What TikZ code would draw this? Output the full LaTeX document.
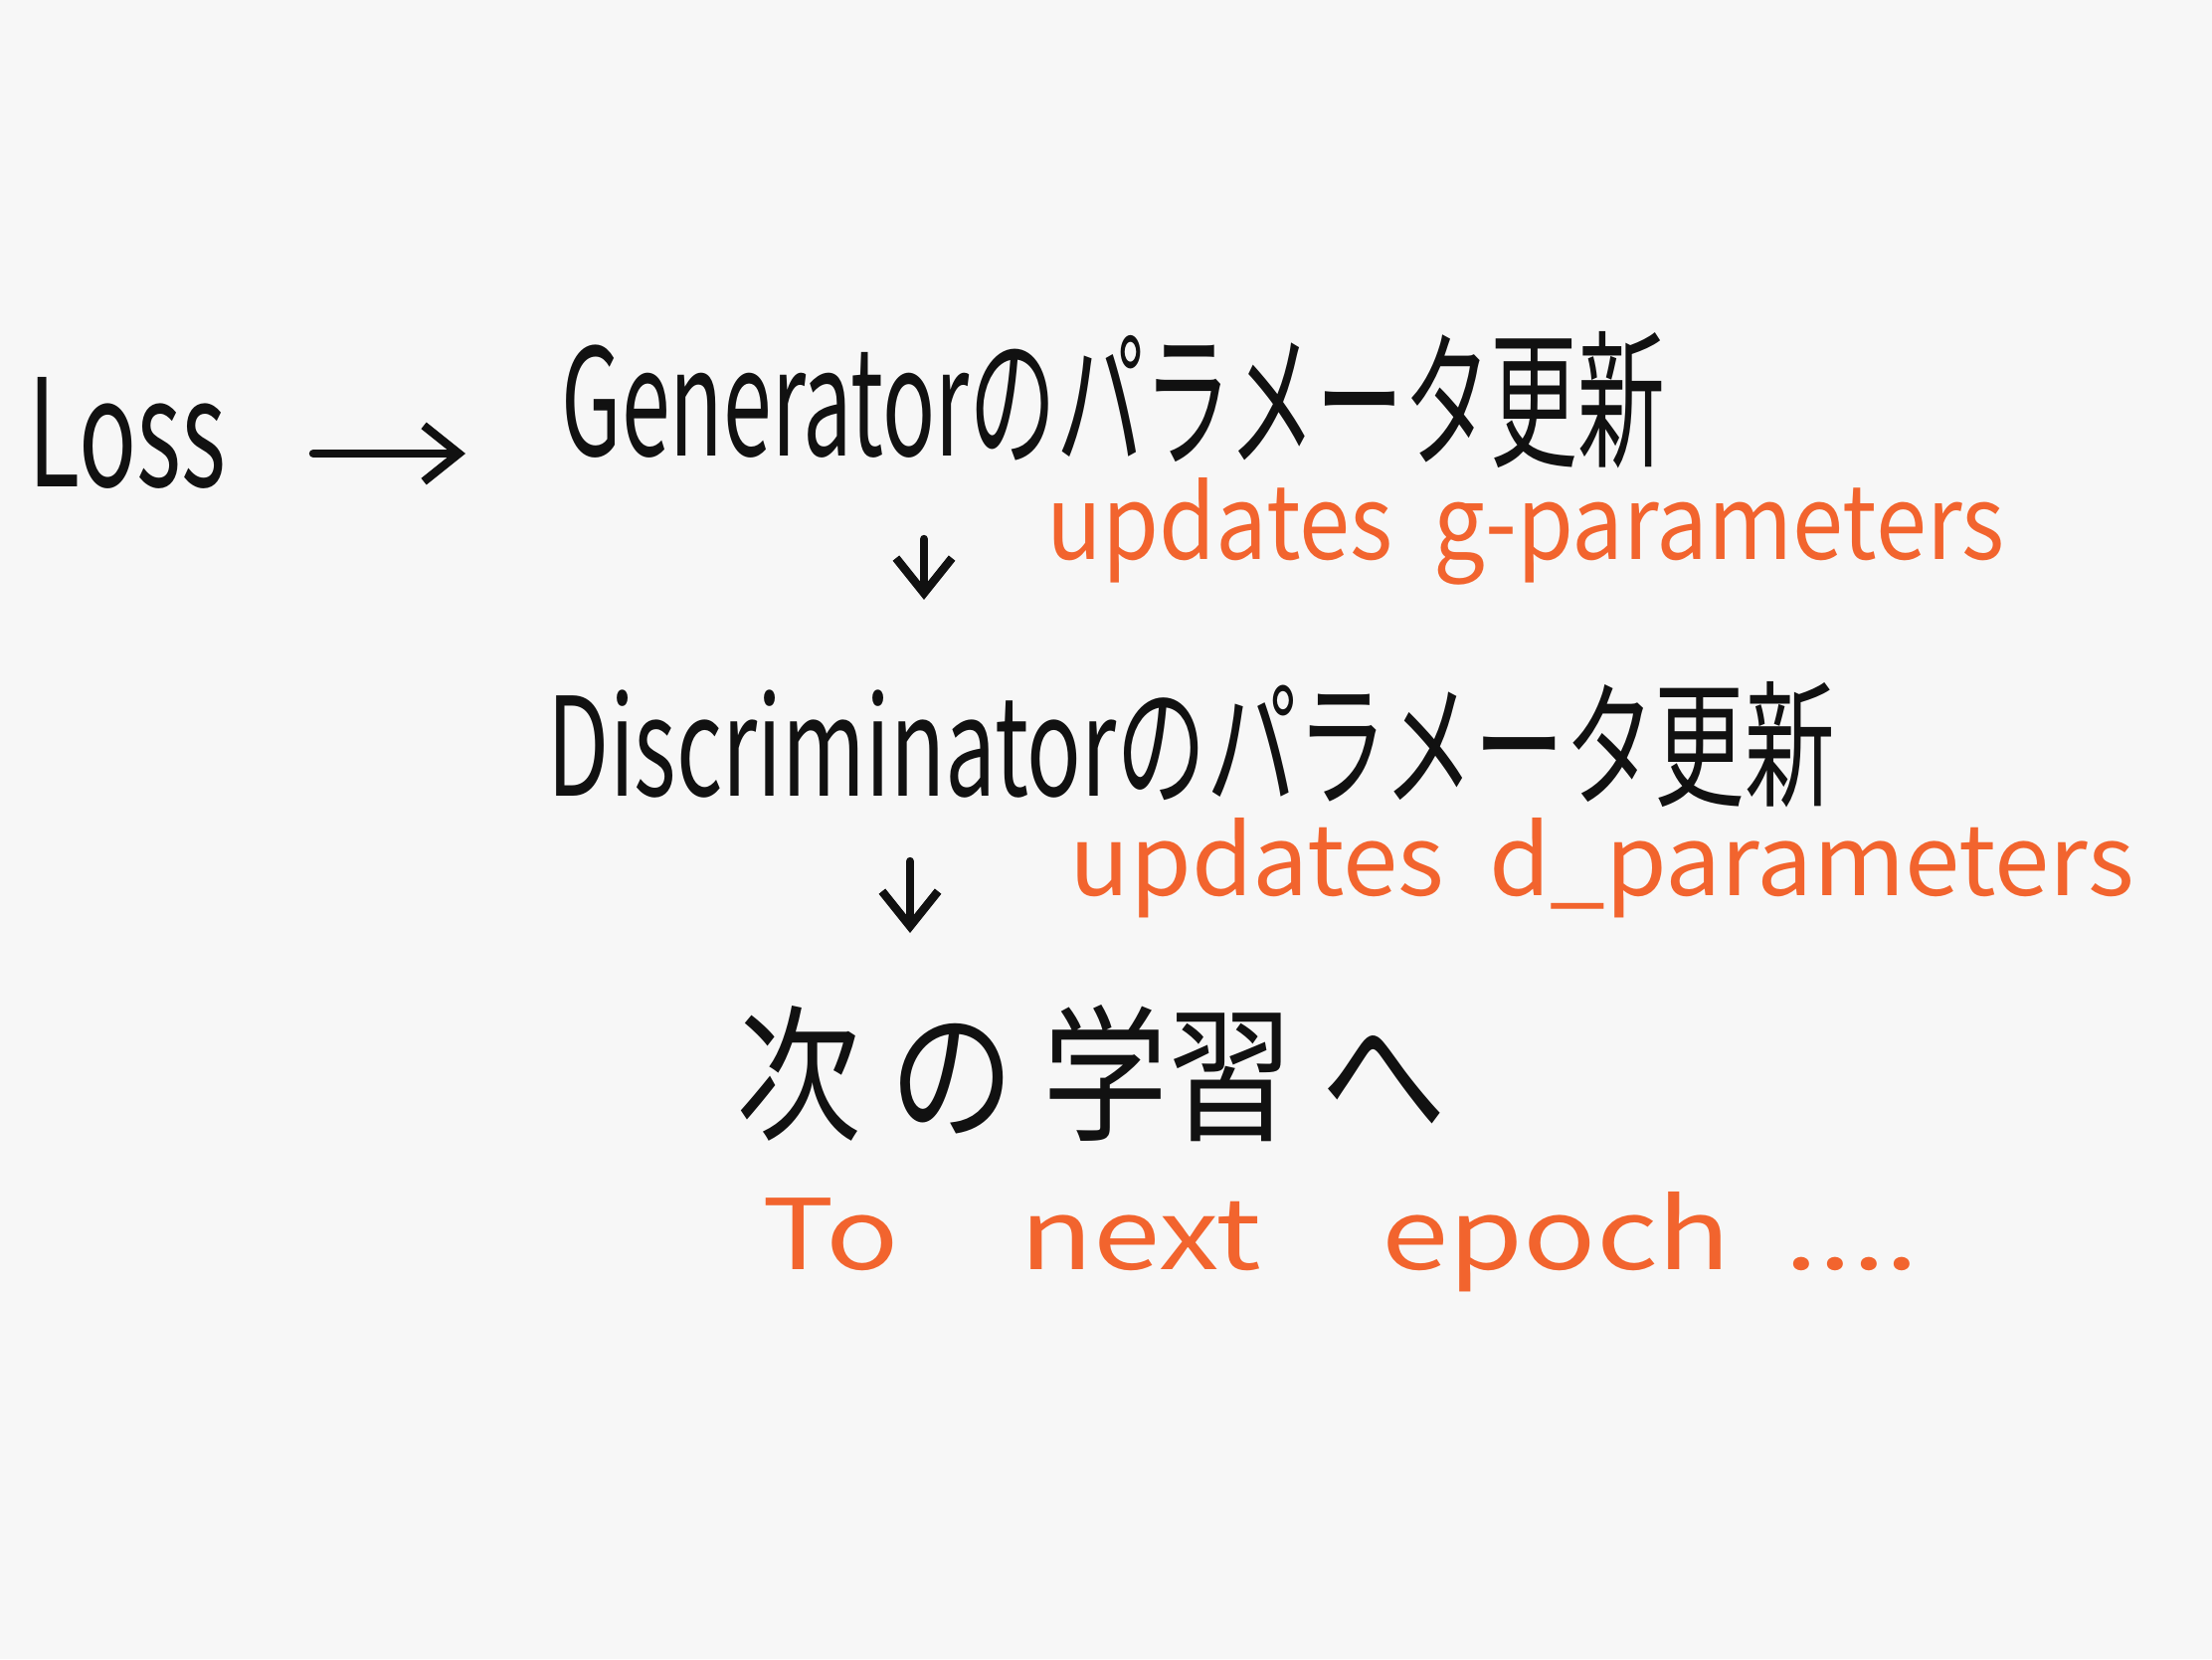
\documentclass[tikz,border=0pt]{standalone}
\usepackage{fontspec}
\usepackage{graphicx}
\setmainfont{Noto Sans CJK JP}
\usetikzlibrary{arrows.meta}
\definecolor{bg}{HTML}{F7F7F7}
\definecolor{ink}{HTML}{111111}
\definecolor{orng}{HTML}{F2642E}
\tikzset{
  blk/.style={text=ink, inner sep=0pt, anchor=base west},
  org/.style={text=orng, inner sep=0pt, anchor=base west},
  arr/.style={draw=ink, line width=2.4pt, -{Straight Barb[length=10pt,width=16pt]}, line cap=round}
}
\begin{document}
\begin{tikzpicture}[x=0.01cm,y=-0.01cm]
\fill[bg] (0,0) rectangle (2224,1668);
\useasboundingbox (0,0) rectangle (2224,1668);
\node[blk] (loss) at (28,489) {\resizebox{1.99cm}{1.1cm}{Loss}};
\node[blk] (gen) at (564,458) {\resizebox{11.09cm}{1.25cm}{Generatorのパラメータ更新}};
\node[org] (gupd) at (1052,562) {\resizebox{9.62cm}{0.82cm}{updates\ \ g-parameters}};
\node[blk] (disc) at (550,800) {\resizebox{12.93cm}{1.15cm}{Discriminatorのパラメータ更新}};
\node[org] (dupd) at (1075,900) {\resizebox{10.69cm}{0.78cm}{updates\ \ d\_parameters}};
\node[blk] (next) at (740,1135) {\resizebox{7.13cm}{1.25cm}{次\ の\ 学習\ へ}};
\node[org] (epoch) at (766,1276) {\resizebox{11.62cm}{0.78cm}{To\quad next\quad epoch\ \ ....}};
\coordinate (l1) at (315,456);
\coordinate (l2) at (468,456);
\coordinate (d1s) at (929,542);
\coordinate (d1e) at (929,603);
\coordinate (d2s) at (915,866);
\coordinate (d2e) at (915,938);
\draw[arr] (l1) -- (l2);
\draw[arr] (d1s) -- (d1e);
\draw[arr] (d2s) -- (d2e);
\end{tikzpicture}
\end{document}
